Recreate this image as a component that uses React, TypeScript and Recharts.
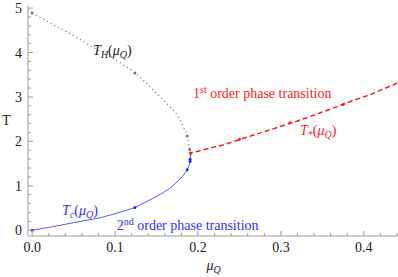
import {
  ComposedChart,
  Line,
  Scatter,
  XAxis,
  YAxis,
  ReferenceDot,
  Label,
} from "recharts";

// T_c(mu_Q): 2nd order line (blue)
const muC = [0, 0.025, 0.05, 0.082, 0.1, 0.124, 0.154, 0.165, 0.175, 0.182, 0.187, 0.1895, 0.191, 0.191];
const tC = [0, 0.08, 0.17, 0.28, 0.37, 0.51, 0.8, 0.93, 1.09, 1.23, 1.36, 1.47, 1.63, 1.72];

// T_H(mu_Q): gray dotted
const muH = [0, 0.025, 0.05, 0.075, 0.094, 0.124, 0.146, 0.166, 0.176, 0.182, 0.187, 0.189, 0.191];
const tH = [4.89, 4.63, 4.38, 4.1, 3.9, 3.54, 3.16, 2.78, 2.56, 2.33, 2.12, 1.9, 1.76];

// T_*(mu_Q): 1st order line (red dashed)
const muS = [0.191, 0.191, 0.2, 0.23, 0.26, 0.29, 0.32, 0.35, 0.38, 0.41, 0.44];
const tS = [1.68, 1.74, 1.78, 1.92, 2.1, 2.28, 2.46, 2.66, 2.87, 3.07, 3.31];

// mesh points drawn as small dots
const blueMarks = [[0, 0], [0.124, 0.51], [0.187, 1.36], [0.1905, 1.55], [0.1905, 1.6]];
const grayMarks = [[0, 4.89], [0.124, 3.54], [0.187, 2.12], [0.19, 1.82]];
const redMarks = [[0.191, 1.74], [0.25, 2.05], [0.311, 2.42], [0.375, 2.83]];

const xTicks = [
  0, 0.02, 0.04, 0.06, 0.08, 0.1, 0.12, 0.14, 0.16, 0.18, 0.2, 0.22, 0.24,
  0.26, 0.28, 0.3, 0.32, 0.34, 0.36, 0.38, 0.4, 0.42, 0.44,
];
const yTicks = [
  0, 0.2, 0.4, 0.6, 0.8, 1, 1.2, 1.4, 1.6, 1.8, 2, 2.2, 2.4, 2.6, 2.8, 3,
  3.2, 3.4, 3.6, 3.8, 4, 4.2, 4.4, 4.6, 4.8, 5,
];

const toPts = (xs: number[], ys: number[]) => xs.map((mu, i) => ({ mu, T: ys[i] }));
const toMarks = (m: number[][]) => m.map(([mu, T]) => ({ mu, T }));

const FONT = "Times New Roman";
const FRAME = "#9a9a9a";
const RED = "#ff1a1a";
const BLUE = "#2f2fff";

const isMajor = (v: number, step: number) =>
  Math.abs(v / step - Math.round(v / step)) < 1e-6;

function BottomTick({ x, y, payload }: any) {
  const major = isMajor(payload.value, 0.1);
  return (
    <g>
      <line x1={x} x2={x} y1={y} y2={y - (major ? 5 : 3)} stroke={FRAME} />
      {major && (
        <text x={x} y={y + 16} textAnchor="middle" fontSize={14} fill="#222" fontFamily={FONT}>
          {payload.value.toFixed(1)}
        </text>
      )}
    </g>
  );
}

function TopTick({ x, y, payload }: any) {
  const major = isMajor(payload.value, 0.1);
  return <line x1={x} x2={x} y1={y} y2={y + (major ? 5 : 3)} stroke={FRAME} />;
}

function LeftTick({ x, y, payload }: any) {
  const major = isMajor(payload.value, 1);
  return (
    <g>
      <line x1={x} x2={x + (major ? 5 : 3)} y1={y} y2={y} stroke={FRAME} />
      {major && (
        <text x={x - 6} y={y + 5} textAnchor="end" fontSize={14} fill="#222" fontFamily={FONT}>
          {payload.value}
        </text>
      )}
    </g>
  );
}

function RightTick({ x, y, payload }: any) {
  const major = isMajor(payload.value, 1);
  return <line x1={x} x2={x - (major ? 5 : 3)} y1={y} y2={y} stroke={FRAME} />;
}

const Sub = ({ children }: any) => (
  <tspan fontSize={10} dy={3} fontStyle="italic">
    {children}
  </tspan>
);

function FuncLabel({ sym, sub }: { sym: string; sub: string }) {
  return (
    <>
      <tspan fontStyle="italic">{sym}</tspan>
      <Sub>{sub}</Sub>
      <tspan dy={-3}>(</tspan>
      <tspan fontStyle="italic">μ</tspan>
      <Sub>Q</Sub>
      <tspan dy={-3}>)</tspan>
    </>
  );
}

const textAt = (color: string, content: any) => (p: any) => (
  <text x={p.cx} y={p.cy} fill={color} fontSize={14} fontFamily={FONT}>
    {content}
  </text>
);

const markDot = (color: string) => (p: any) => (
  <circle cx={p.cx} cy={p.cy} r={1.5} fill={color} />
);

export default function App() {
  return (
    <div style={{ position: "absolute", left: 0, top: 0, fontFamily: FONT }}>
      <ComposedChart
        width={398}
        height={277}
        margin={{ top: 5, right: 1, bottom: 0, left: 0 }}
      >
        <XAxis
          xAxisId="b"
          type="number"
          dataKey="mu"
          domain={[-0.005, 0.44]}
          allowDataOverflow
          ticks={xTicks}
          interval={0}
          tickSize={0}
          tickMargin={0}
          height={41}
          axisLine={{ stroke: FRAME }}
          tickLine={false}
          tick={<BottomTick />}
        >
          <Label
            content={({ viewBox }: any) => (
              <text
                x={viewBox.x + viewBox.width / 2 - 6}
                y={viewBox.y + 34}
                fontSize={14}
                fill="#222"
                fontFamily={FONT}
              >
                <tspan fontStyle="italic">μ</tspan>
                <Sub>Q</Sub>
              </text>
            )}
          />
        </XAxis>
        <XAxis
          xAxisId="t"
          orientation="top"
          type="number"
          dataKey="mu"
          domain={[-0.005, 0.44]}
          allowDataOverflow
          ticks={xTicks}
          interval={0}
          tickSize={0}
          tickMargin={0}
          height={0}
          axisLine={{ stroke: FRAME }}
          tickLine={false}
          tick={<TopTick />}
        />
        <YAxis
          yAxisId="l"
          type="number"
          domain={[-0.13, 5.07]}
          allowDataOverflow
          ticks={yTicks}
          interval={0}
          tickSize={0}
          tickMargin={0}
          width={28}
          axisLine={{ stroke: FRAME }}
          tickLine={false}
          tick={<LeftTick />}
        >
          <Label
            content={({ viewBox }: any) => (
              <text
                x={2}
                y={viewBox.y + viewBox.height / 2 + 4}
                fontSize={14}
                fill="#222"
                fontFamily={FONT}
              >
                T
              </text>
            )}
          />
        </YAxis>
        <YAxis
          yAxisId="r"
          orientation="right"
          type="number"
          domain={[-0.13, 5.07]}
          allowDataOverflow
          ticks={yTicks}
          interval={0}
          tickSize={0}
          tickMargin={0}
          width={0}
          axisLine={{ stroke: FRAME }}
          tickLine={false}
          tick={<RightTick />}
        />

        <Line
          xAxisId="b"
          yAxisId="l"
          data={toPts(muH, tH)}
          dataKey="T"
          type="monotone"
          stroke="#8a8a8a"
          strokeWidth={1.3}
          strokeDasharray="1.2 3"
          dot={false}
          isAnimationActive={false}
        />
        <Line
          xAxisId="b"
          yAxisId="l"
          data={toPts(muC, tC)}
          dataKey="T"
          type="linear"
          stroke="#5a5aff"
          strokeWidth={1}
          dot={false}
          isAnimationActive={false}
        />
        <Line
          xAxisId="b"
          yAxisId="l"
          data={toPts(muS, tS)}
          dataKey="T"
          type="linear"
          stroke={RED}
          strokeWidth={1.5}
          strokeDasharray="5 3"
          dot={false}
          isAnimationActive={false}
        />
        <Scatter
          xAxisId="b"
          yAxisId="l"
          data={toMarks(blueMarks)}
          dataKey="T"
          shape={markDot("#2020ff")}
          isAnimationActive={false}
        />
        <Scatter
          xAxisId="b"
          yAxisId="l"
          data={toMarks(grayMarks)}
          dataKey="T"
          shape={markDot("#777")}
          isAnimationActive={false}
        />
        <Scatter
          xAxisId="b"
          yAxisId="l"
          data={toMarks(redMarks)}
          dataKey="T"
          shape={markDot(RED)}
          isAnimationActive={false}
        />

        <ReferenceDot
          xAxisId="b"
          yAxisId="l"
          x={0.0735}
          y={3.94}
          ifOverflow="visible"
          shape={textAt("#222", <FuncLabel sym="T" sub="H" />)}
        />
        <ReferenceDot
          xAxisId="b"
          yAxisId="l"
          x={0.036}
          y={0.35}
          ifOverflow="visible"
          shape={textAt(BLUE, <FuncLabel sym="T" sub="c" />)}
        />
        <ReferenceDot
          xAxisId="b"
          yAxisId="l"
          x={0.323}
          y={2.15}
          ifOverflow="visible"
          shape={textAt(RED, <FuncLabel sym="T" sub="*" />)}
        />
        <ReferenceDot
          xAxisId="b"
          yAxisId="l"
          x={0.194}
          y={2.98}
          ifOverflow="visible"
          shape={textAt(
            RED,
            <>
              1
              <tspan fontSize={10} dy={-5}>
                st
              </tspan>
              <tspan dy={5}> order phase transition</tspan>
            </>
          )}
        />
        <ReferenceDot
          xAxisId="b"
          yAxisId="l"
          x={0.102}
          y={0.01}
          ifOverflow="visible"
          shape={textAt(
            BLUE,
            <>
              2
              <tspan fontSize={10} dy={-5}>
                nd
              </tspan>
              <tspan dy={5}> order phase transition</tspan>
            </>
          )}
        />
      </ComposedChart>
    </div>
  );
}
